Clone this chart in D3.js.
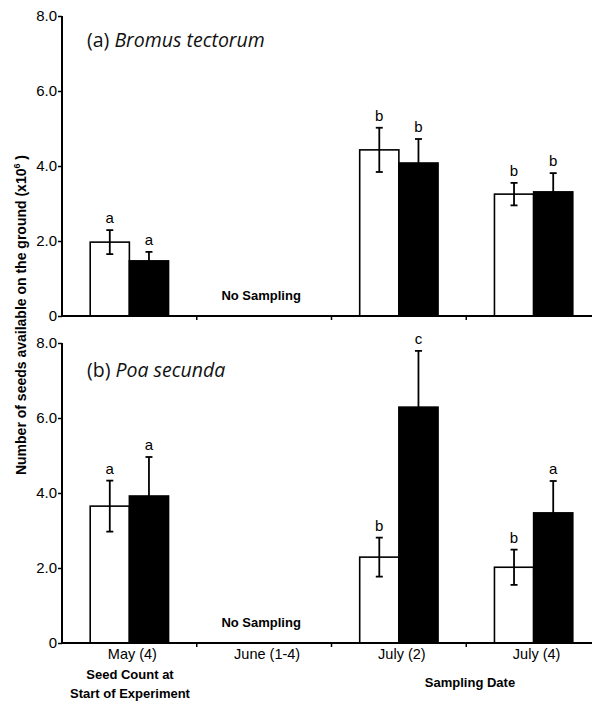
<!DOCTYPE html>
<html>
<head>
<meta charset="utf-8">
<script src="https://cdn.jsdelivr.net/npm/d3@7"></script>
<style>
  body { margin: 0; background: #fff; }
  svg { display: block; font-family: "Liberation Sans", Arial, sans-serif; }
</style>
</head>
<body>
<div id="plot"></div>
<script>
// sampling dates (x categories)
const categories = ["May (4)", "June (1-4)", "July (2)", "July (4)"];
const treatments = ["open", "filled"];
const yTicks = [0, 2, 4, 6, 8];

// (a) Bromus tectorum, seeds x10^6
const bromusOpen = [1.97, null, 4.43, 3.25];
const bromusOpenErr = [0.32, null, 0.59, 0.30];
const bromusFilled = [1.47, null, 4.08, 3.31];
const bromusFilledErr = [0.24, null, 0.64, 0.50];
const bromusOpenLetters = ["a", null, "b", "b"];
const bromusFilledLetters = ["a", null, "b", "b"];

// (b) Poa secunda
const poaOpen = [3.65, null, 2.29, 2.02];
const poaOpenErr = [0.68, null, 0.52, 0.47];
const poaFilled = [3.92, null, 6.29, 3.47];
const poaFilledErr = [1.04, null, 1.50, 0.85];
const poaOpenLetters = ["a", null, "b", "b"];
const poaFilledLetters = ["a", null, "c", "a"];

const width = 592, height = 701;

const svg = d3.select("#plot")
  .append("svg")
    .attr("width", width)
    .attr("height", height)
    .attr("viewBox", `0, 0, ${width}, ${height}`);

const xScale = d3.scaleBand()
  .domain(categories)
  .range([62, 601]);

const xSub = d3.scaleBand()
  .domain(treatments)
  .range([0, xScale.bandwidth()])
  .paddingOuter(0.72);

const buildRows = (open, openErr, filled, filledErr, openL, filledL) => {
  const rows = [];
  categories.forEach((c, i) => {
    if (open[i] != null) rows.push({cat: c, t: "open", v: open[i], e: openErr[i], l: openL[i]});
    if (filled[i] != null) rows.push({cat: c, t: "filled", v: filled[i], e: filledErr[i], l: filledL[i]});
  });
  return rows;
};

const panels = [
  {
    rows: buildRows(bromusOpen, bromusOpenErr, bromusFilled, bromusFilledErr, bromusOpenLetters, bromusFilledLetters),
    top: 16, bottom: 316, tag: "(a) ", species: "Bromus tectorum", titleY: 47, labels: false
  },
  {
    rows: buildRows(poaOpen, poaOpenErr, poaFilled, poaFilledErr, poaOpenLetters, poaFilledLetters),
    top: 343, bottom: 643, tag: "(b) ", species: "Poa secunda", titleY: 377, labels: true
  }
];

panels.forEach(p => {
  const yScale = d3.scaleLinear().domain([0, 8]).range([p.bottom, p.top]);
  const g = svg.append("g").attr("class", "panel");

  // bars
  g.selectAll("rect.bar")
    .data(p.rows)
    .join("rect")
      .attr("class", "bar")
      .attr("x", d => xScale(d.cat) + xSub(d.t))
      .attr("width", xSub.bandwidth())
      .attr("y", d => yScale(d.v))
      .attr("height", d => yScale(0) - yScale(d.v))
      .attr("fill", d => d.t === "open" ? "#fff" : "#000")
      .attr("stroke", "#000")
      .attr("stroke-width", 1.6);

  // error bars
  const cx = d => xScale(d.cat) + xSub(d.t) + xSub.bandwidth() / 2;
  const err = g.selectAll("g.err")
    .data(p.rows)
    .join("g")
      .attr("class", "err")
      .attr("stroke", "#000")
      .attr("stroke-width", 1.8);
  err.append("line")
    .attr("x1", cx).attr("x2", cx)
    .attr("y1", d => yScale(d.v + d.e))
    .attr("y2", d => yScale(d.v - d.e));
  err.append("line")
    .attr("x1", d => cx(d) - 3.5).attr("x2", d => cx(d) + 3.5)
    .attr("y1", d => yScale(d.v + d.e)).attr("y2", d => yScale(d.v + d.e));
  err.append("line")
    .attr("x1", d => cx(d) - 3.5).attr("x2", d => cx(d) + 3.5)
    .attr("y1", d => yScale(d.v - d.e)).attr("y2", d => yScale(d.v - d.e));

  // significance letters
  g.selectAll("text.letter")
    .data(p.rows)
    .join("text")
      .attr("class", "letter")
      .attr("x", cx)
      .attr("y", d => yScale(d.v + d.e) - 7)
      .attr("text-anchor", "middle")
      .attr("font-size", 15)
      .text(d => d.l);

  // y axis
  const yAxis = g.append("g")
    .attr("transform", "translate(62,0)")
    .call(d3.axisLeft(yScale)
      .tickValues(yTicks)
      .tickSize(4)
      .tickFormat(d => d === 0 ? "0" : d.toFixed(1)));
  yAxis.select(".domain").attr("stroke-width", 2).attr("d", `M0,${p.top}V${p.bottom}`);
  yAxis.selectAll(".tick line").attr("stroke-width", 1.5);
  yAxis.selectAll(".tick text").attr("font-size", 15).attr("fill", "#000").attr("x", -5);

  // x axis line and boundary ticks
  g.append("line")
    .attr("x1", 61).attr("x2", width)
    .attr("y1", p.bottom).attr("y2", p.bottom)
    .attr("stroke", "#000").attr("stroke-width", 2);
  g.selectAll("line.xtick")
    .data(categories.slice(1))
    .join("line")
      .attr("class", "xtick")
      .attr("x1", d => xScale(d)).attr("x2", d => xScale(d))
      .attr("y1", p.bottom).attr("y2", p.bottom + 4)
      .attr("stroke", "#000").attr("stroke-width", 1.5);

  // no sampling note
  g.append("text")
    .attr("x", xScale("June (1-4)") + xScale.bandwidth() / 2 - 3)
    .attr("y", p.bottom - 16)
    .attr("text-anchor", "middle")
    .attr("font-size", 13)
    .attr("font-weight", "bold")
    .text("No Sampling");

  // panel title
  const title = g.append("text")
    .attr("x", 87)
    .attr("y", p.titleY)
    .attr("font-family", "'Open Sans', sans-serif")
    .attr("font-size", 19.5)
    .attr("fill", "#111");
  title.append("tspan").text(p.tag);
  title.append("tspan").attr("font-style", "italic").text(p.species);

  if (p.labels) {
    g.selectAll("text.xlab")
      .data(categories)
      .join("text")
        .attr("class", "xlab")
        .attr("x", d => xScale(d) + xScale.bandwidth() / 2 + 3)
        .attr("y", p.bottom + 16)
        .attr("text-anchor", "middle")
        .attr("font-size", 14.5)
        .text(d => d);
  }
});

// axis titles
svg.append("text")
  .attr("x", 130).attr("y", 679)
  .attr("text-anchor", "middle")
  .attr("font-size", 13).attr("font-weight", "bold")
  .text("Seed Count at");
svg.append("text")
  .attr("x", 130).attr("y", 698)
  .attr("text-anchor", "middle")
  .attr("font-size", 13).attr("font-weight", "bold")
  .text("Start of Experiment");
svg.append("text")
  .attr("x", 470).attr("y", 687)
  .attr("text-anchor", "middle")
  .attr("font-size", 13).attr("font-weight", "bold")
  .text("Sampling Date");

const yLabel = svg.append("text")
  .attr("transform", "translate(26,315) rotate(-90)")
  .attr("text-anchor", "middle")
  .attr("font-size", 14)
  .attr("font-weight", "bold");
yLabel.append("tspan").text("Number of seeds available on the ground (x10");
yLabel.append("tspan").attr("font-size", 9).attr("dy", -6).text("6");
yLabel.append("tspan").attr("dy", 6).text(" )");
</script>
</body>
</html>
